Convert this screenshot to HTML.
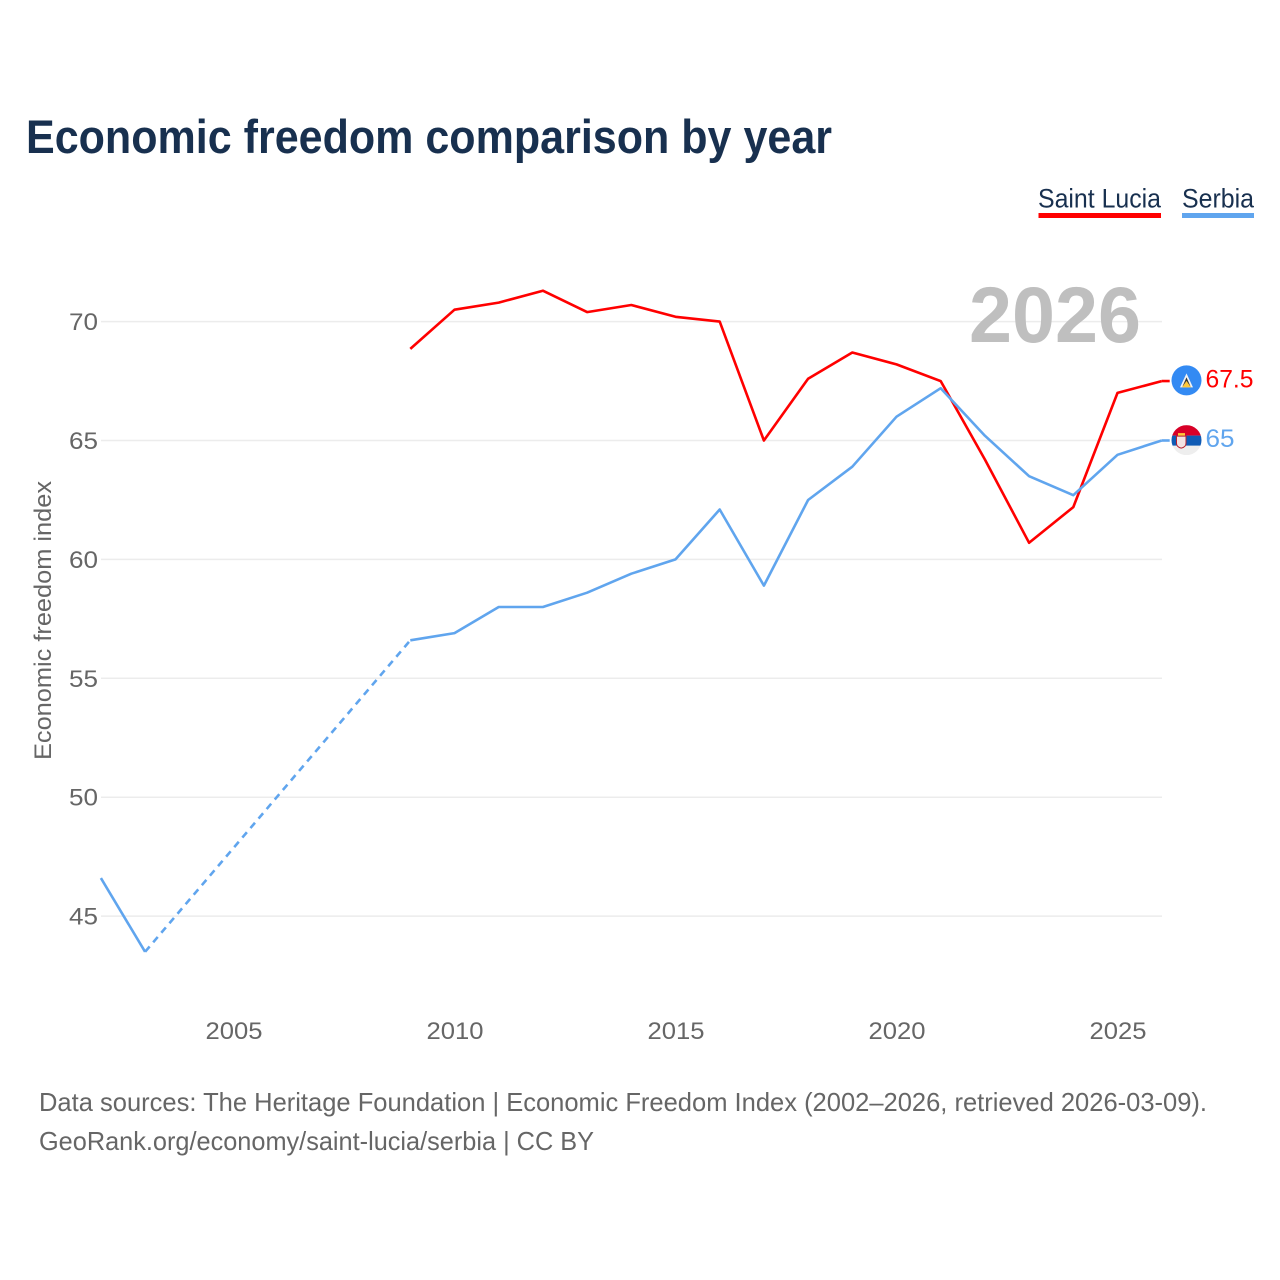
<!DOCTYPE html>
<html lang="en">
<head>
<meta charset="utf-8">
<title>Economic freedom comparison by year</title>
<style>
html,body{margin:0;padding:0;background:#fff}
svg{display:block}
text{font-family:"Liberation Sans",sans-serif}
</style>
</head>
<body>
<svg id="chart" xmlns="http://www.w3.org/2000/svg" width="1280" height="1280" viewBox="0 0 1280 1280">
  <defs>
    <clipPath id="serbia-clip"><circle id="serbia-clip-circle" cx="1186.5" cy="440" r="15"/></clipPath>
  </defs>
  <rect width="1280" height="1280" fill="#fff"/>
  <text x="26" y="153" font-size="47" font-weight="700" fill="#18304f" textLength="806" lengthAdjust="spacingAndGlyphs">Economic freedom comparison by year</text>

  <g>
    <text x="1038" y="207.5" font-size="27" fill="#18304f" textLength="123" lengthAdjust="spacingAndGlyphs">Saint Lucia</text>
    <rect x="1038.5" y="213" width="122.5" height="5" fill="#ff0000"/>
  </g>
  <g>
    <text x="1182" y="207.5" font-size="27" fill="#18304f" textLength="72" lengthAdjust="spacingAndGlyphs">Serbia</text>
    <rect x="1182" y="213" width="72" height="5" fill="#60a5ee"/>
  </g>

  <g id="grid"></g>
  <g id="yticks"></g>
  <g id="xticks"></g>

  <text transform="translate(51,620.5) rotate(-90)" text-anchor="middle" font-size="24" fill="#666" textLength="279" lengthAdjust="spacingAndGlyphs">Economic freedom index</text>
  <text x="969" y="342" font-size="79" font-weight="700" fill="#bfbfbf" textLength="172" lengthAdjust="spacingAndGlyphs">2026</text>

  <g id="series"></g>
  <g id="ends"></g>

  <text x="39" y="1111" font-size="26" fill="#666" textLength="1168" lengthAdjust="spacingAndGlyphs">Data sources: The Heritage Foundation | Economic Freedom Index (2002–2026, retrieved 2026-03-09).</text>
  <text x="39" y="1150" font-size="26" fill="#666" textLength="555" lengthAdjust="spacingAndGlyphs">GeoRank.org/economy/saint-lucia/serbia | CC BY</text>
</svg>
<script>
var years = [2002,2003,2004,2005,2006,2007,2008,2009,2010,2011,2012,2013,2014,2015,2016,2017,2018,2019,2020,2021,2022,2023,2024,2025,2026];
var saintLuciaValues = [null,null,null,null,null,null,null,68.85,70.5,70.8,71.3,70.4,70.7,70.2,70.0,65.0,67.6,68.7,68.2,67.5,64.2,60.7,62.2,67.0,67.5];
var serbiaValues = [46.6,43.5,null,null,null,null,null,56.6,56.9,58.0,58.0,58.6,59.4,60.0,62.1,58.9,62.5,63.9,66.0,67.2,65.2,63.5,62.7,64.4,65.0];
var yTickValues = [45,50,55,60,65,70];
var xTickValues = [2005,2010,2015,2020,2025];

var SVGNS = 'http://www.w3.org/2000/svg';
function xScale(year){ return 100.9 + (year - 2002) * 44.2; }
function yScale(v){ return 321.6 + (70 - v) * 23.78; }
function make(tag, attrs, parent){
  var el = document.createElementNS(SVGNS, tag);
  for (var k in attrs) el.setAttribute(k, attrs[k]);
  parent.appendChild(el);
  return el;
}

var gridG = document.getElementById('grid');
var yG = document.getElementById('yticks');
var xG = document.getElementById('xticks');
yTickValues.forEach(function(v){
  var line = make('line', {x1:101, x2:1162, y1:yScale(v), y2:yScale(v), stroke:'#ececec', 'stroke-width':1.5}, gridG);
  
  
  var t = make('text', {x:98, y:yScale(v)+8.5, 'text-anchor':'end', 'font-size':24, fill:'#666', textLength:29, lengthAdjust:'spacingAndGlyphs'}, yG);
  t.textContent = String(v);
  
  
});
xTickValues.forEach(function(v){
  var t = make('text', {x:xScale(v)+0.5, y:1039, 'text-anchor':'middle', 'font-size':24, fill:'#666', textLength:57, lengthAdjust:'spacingAndGlyphs'}, xG);
  t.textContent = String(v);
  
  
});

function drawSeries(values, color, key){
  var g = make('g', {}, document.getElementById('series'));
  
  
  var solid = '', dashed = '', prev = -1;
  values.forEach(function(v, i){
    if (v === null) return;
    var pt = xScale(years[i]).toFixed(1) + ' ' + yScale(v).toFixed(1);
    if (prev === -1) {
      solid += 'M' + pt;
    } else if (prev === i - 1) {
      solid += 'L' + pt;
    } else {
      dashed += 'M' + xScale(years[prev]).toFixed(1) + ' ' + yScale(values[prev]).toFixed(1) + 'L' + pt;
      solid += 'M' + pt;
    }
    prev = i;
  });
  var p = make('path', {d:solid, fill:'none', stroke:color, 'stroke-width':2.6, 'stroke-linejoin':'round'}, g);
  
  
  if (dashed) {
    var d = make('path', {d:dashed, fill:'none', stroke:color, 'stroke-width':2.6, 'stroke-dasharray':'7 5.5'}, g);
    
    
  }
}
drawSeries(saintLuciaValues, '#ff0000', 'saint-lucia');
drawSeries(serbiaValues, '#60a5ee', 'serbia');

function endMarker(values, color, key, labelWidth){
  var last = values[values.length - 1];
  var y = yScale(last);
  var x = xScale(years[years.length - 1]);
  var g = make('g', {}, document.getElementById('ends'));
  
  
  var c = make('line', {x1:x, x2:x+8, y1:y, y2:y, stroke:color, 'stroke-width':2.6}, g);
  
  
  var t = make('text', {x:1205.5, y:y+6.5, 'font-size':25, fill:color, textLength:labelWidth, lengthAdjust:'spacingAndGlyphs'}, g);
  t.textContent = String(last);
  
  
  return {g:g, y:y};
}

var lucia = endMarker(saintLuciaValues, '#ff0000', 'saint-lucia', 48);
var ly = lucia.y - 0.7;
var luciaFlag = make('g', {}, lucia.g);


make('circle', {cx:1186.5, cy:ly, r:15, fill:'#338af3'}, luciaFlag);
make('path', {d:'M1186.5 ' + (ly-7) + 'L1180 ' + (ly+7) + 'H1193Z', fill:'#f3f3f3'}, luciaFlag);
make('path', {d:'M1186.5 ' + (ly-3) + 'L1182.5 ' + (ly+6) + 'H1190.5Z', fill:'#333'}, luciaFlag);
make('path', {d:'M1186.5 ' + (ly+0.5) + 'L1182 ' + (ly+7) + 'H1191Z', fill:'#ffc83a'}, luciaFlag);

var serbia = endMarker(serbiaValues, '#60a5ee', 'serbia', 29);
var sy = serbia.y - 0.4;
document.getElementById('serbia-clip-circle').setAttribute('cy', sy);
var serbiaFlag = make('g', {'clip-path':'url(#serbia-clip)'}, serbia.g);


make('rect', {x:1171, y:sy-15, width:31, height:30, fill:'#eeeeee'}, serbiaFlag);
make('rect', {x:1171, y:sy-15, width:31, height:10.5, fill:'#d80027'}, serbiaFlag);
make('rect', {x:1171, y:sy-4.5, width:31, height:10, fill:'#0f5bb5'}, serbiaFlag);
make('rect', {x:1178, y:sy-7, width:7, height:3, fill:'#ffc83a'}, serbiaFlag);
make('path', {d:'M1176.5 ' + (sy-4) + 'H1186V' + (sy+3) + 'Q1186 ' + (sy+7) + ' 1181.2 ' + (sy+8) + 'Q1176.5 ' + (sy+7) + ' 1176.5 ' + (sy+3) + 'Z', fill:'#f4e3e3', stroke:'#b5202e', 'stroke-width':1}, serbiaFlag);
</script>
</body>
</html>
